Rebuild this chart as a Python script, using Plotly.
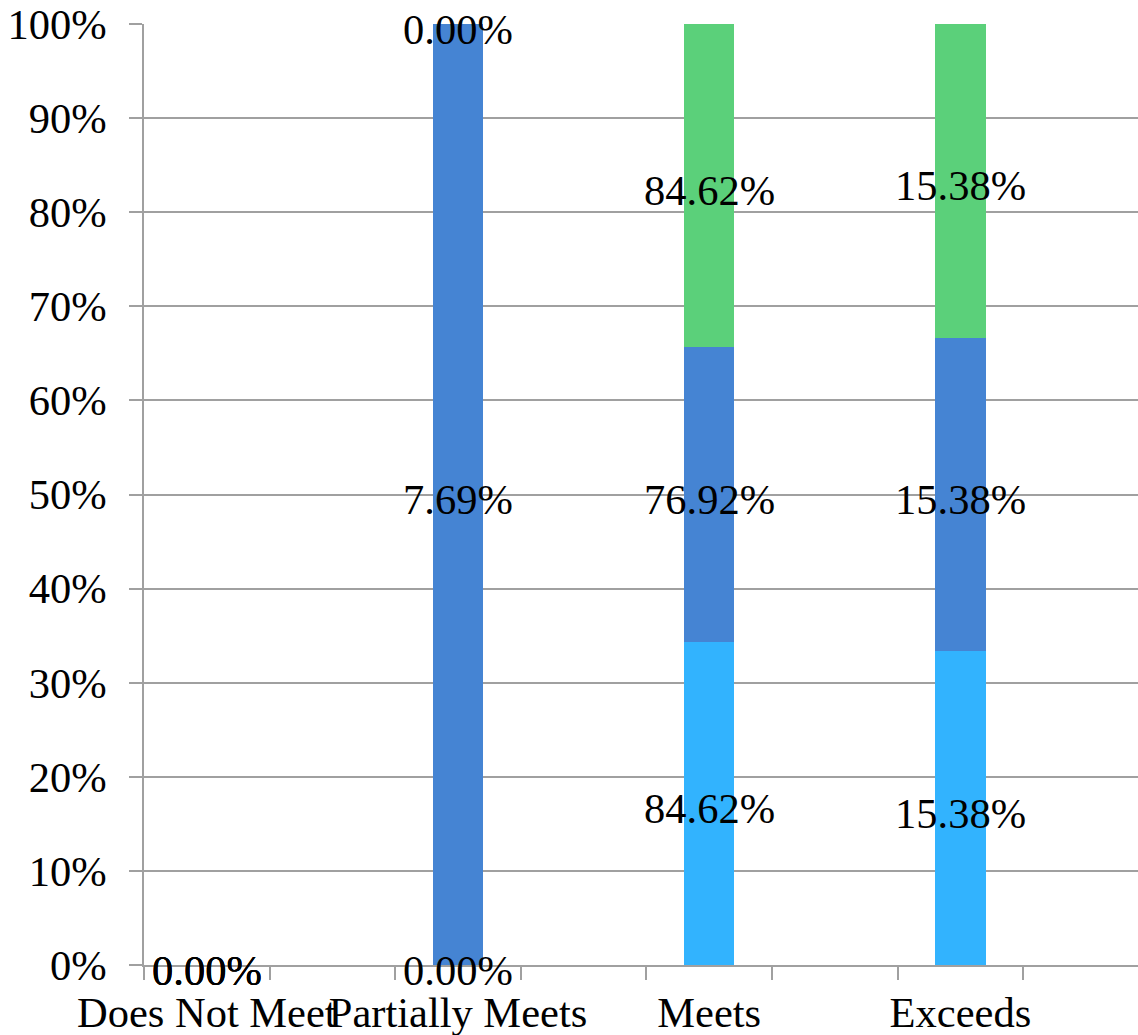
import plotly.graph_objects as go

categories = ["Does Not Meet", "Partially Meets", "Meets", "Exceeds"]
series_names = ["Series 1", "Series 2", "Series 3"]
series_bottom = [0.00, 0.00, 84.62, 15.38]
series_middle = [0.00, 7.69, 76.92, 15.38]
series_top = [0.00, 0.00, 84.62, 15.38]
colors = ["#32B3FE", "#4584D3", "#5BD07A"]
y_ticks = list(range(0, 101, 10))
y_tick_labels = [f"{v}%" for v in y_ticks]

FONT = "Liberation Serif, Times New Roman, serif"
FS = 42.5

all_series = [series_bottom, series_middle, series_top]
xpos = [2 * i for i in range(len(categories))]

totals = [sum(s[i] for s in all_series) for i in range(len(categories))]
shares = []
for s in all_series:
    shares.append([(v / t * 100 if t else 0.0) for v, t in zip(s, totals)])

fig = go.Figure()
for name, sh, col in zip(series_names, shares, colors):
    fig.add_trace(go.Bar(x=xpos, y=sh, name=name, width=0.4,
                         marker=dict(color=col, line=dict(width=0)),
                         hoverinfo="skip"))

# data labels at segment midpoints
base = [0.0] * len(categories)
for s, sh in zip(all_series, shares):
    for x, b, v, raw in zip(xpos, base, sh, s):
        fig.add_annotation(x=x, y=b + v / 2, xref="x", yref="y",
                           text=f"{raw:.2f}%", showarrow=False,
                           xanchor="center", yanchor="middle", yshift=-5,
                           font=dict(family=FONT, size=FS, color="black"))
    base = [b + v for b, v in zip(base, sh)]

W, H = 1138, 1035
L, R, T, B = 144, 0, 24, 70
slot = 125.6
fig.update_layout(
    width=W, height=H, autosize=False,
    margin=dict(l=L, r=R, t=T, b=B, pad=0),
    barmode="stack", showlegend=False,
    plot_bgcolor="white", paper_bgcolor="white",
    font=dict(family=FONT, size=FS, color="black"),
)
fig.update_xaxes(
    range=[-0.5, (W - L - R) / slot - 0.5],
    tickmode="array", tickvals=xpos, ticktext=categories, tickangle=0,
    ticks="", showgrid=False, zeroline=False,
    showline=True, linecolor="#A0A0A0", linewidth=1.5,
    ticklabelstandoff=9, ticklabeloverflow="allow",
    tickfont=dict(family=FONT, size=FS, color="black"),
    minor=dict(ticks="outside", tick0=0.5, dtick=1, ticklen=13,
               tickcolor="#A0A0A0", tickwidth=1.5, showgrid=False),
)
fig.update_yaxes(
    range=[0, 100], tickmode="array", tickvals=y_ticks, ticktext=y_tick_labels,
    showgrid=True, gridcolor="#A0A0A0", gridwidth=1.5, zeroline=False,
    showline=True, linecolor="#A0A0A0", linewidth=1.5,
    ticks="outside", ticklen=13, tickcolor="#A0A0A0", tickwidth=1.5,
    ticklabelstandoff=14, ticklabeloverflow="allow",
    tickfont=dict(family=FONT, size=FS, color="black"),
)

fig.write_html(
    "out.html",
    config={"displayModeBar": False},
    post_script="document.body.style.margin='0px';document.body.style.overflow='hidden';",
)
